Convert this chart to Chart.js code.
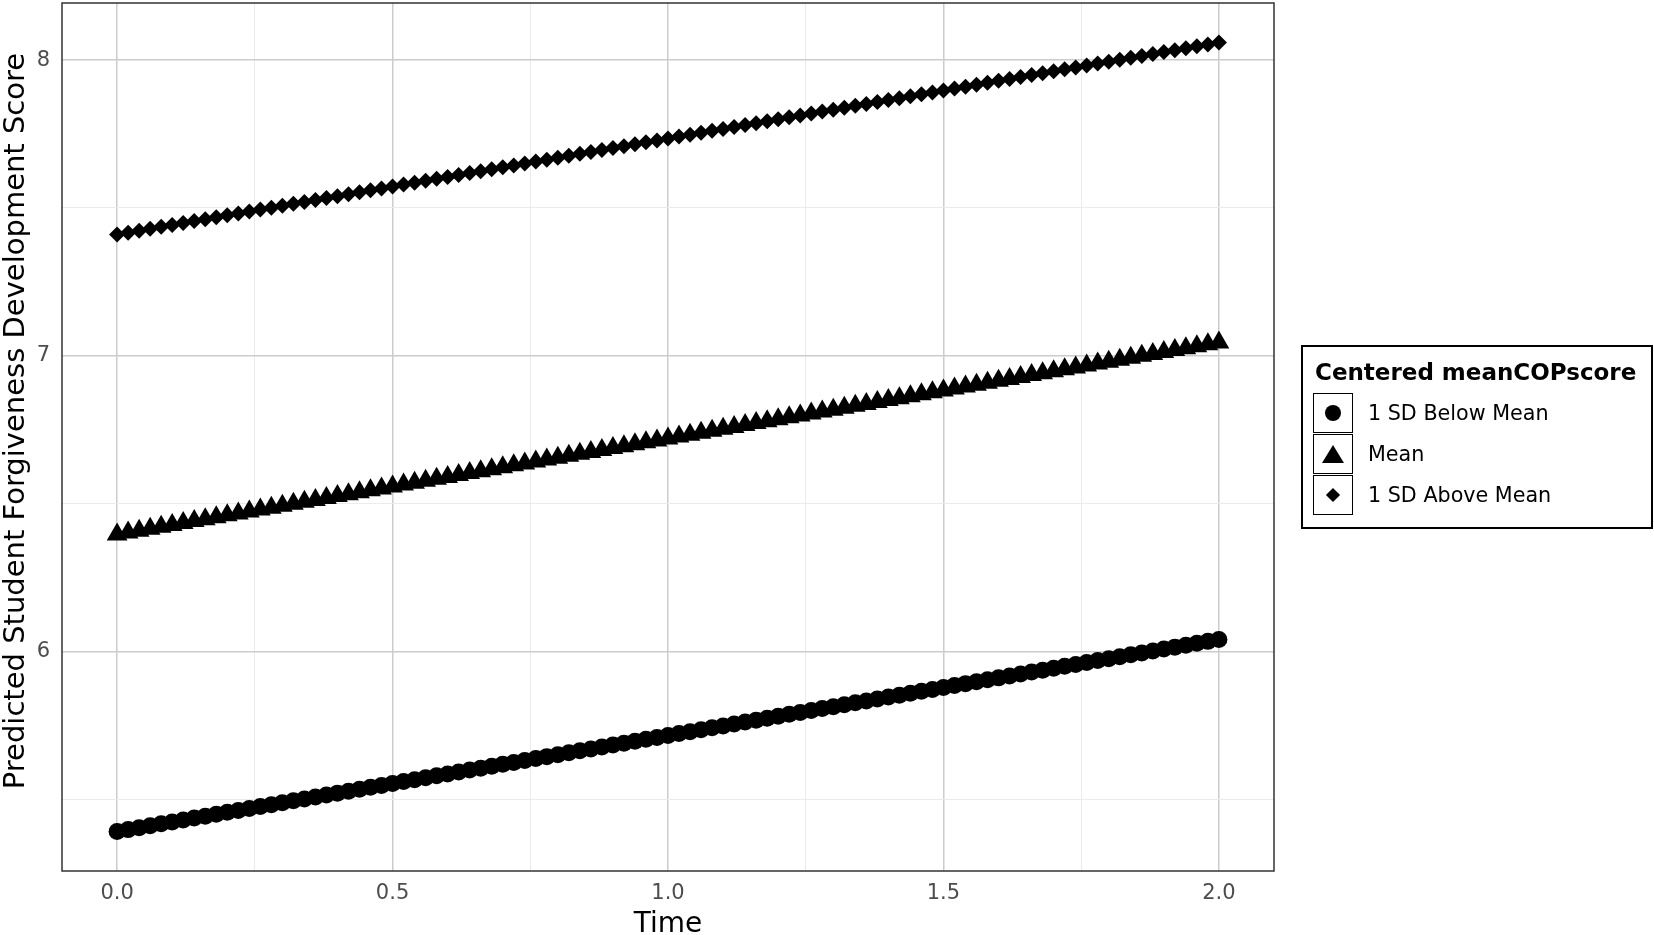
<!DOCTYPE html>
<html>
<head>
<meta charset="utf-8">
<script src="https://cdn.jsdelivr.net/npm/chart.js@4"></script>
<style>
  body { margin: 0; background: #fff; }
  #wrap { position: relative; width: 1654px; height: 935px; }
  #legend {
    position: absolute; left: 1301px; top: 345px; width: 348px; height: 180px;
    border: 2px solid #000; font-family: "DejaVu Sans", sans-serif; color: #000;
  }
  #legend .title { position: absolute; left: 12px; top: 12px; font-size: 23px; font-weight: bold; line-height: 26px; white-space: nowrap; }
  #legend .row { position: absolute; left: 10px; height: 41px; width: 330px; }
  #legend .key { position: absolute; left: 0; top: 0; width: 38px; height: 38px; border: 1.5px solid #000; }
  #legend .lab { position: absolute; left: 55px; top: 0; line-height: 41px; font-size: 20.7px; white-space: nowrap; }
  .dot { position: absolute; left: 11px; top: 11px; width: 16px; height: 16px; border-radius: 50%; background: #000; }
  .tri { position: absolute; left: 8px; top: 10px; width: 0; height: 0; border-left: 11px solid transparent; border-right: 11px solid transparent; border-bottom: 18px solid #000; }
  .dia { position: absolute; left: 14px; top: 14px; width: 10px; height: 10px; background: #000; transform: rotate(45deg); }
</style>
</head>
<body>
<div id="wrap">
  <canvas id="myChart" width="1654" height="935"></canvas>
  <div id="legend">
    <div class="title">Centered meanCOPscore</div>
    <div class="row" style="top:46px"><div class="key"><div class="dot"></div></div><div class="lab">1 SD Below Mean</div></div>
    <div class="row" style="top:87px"><div class="key"><div class="tri"></div></div><div class="lab">Mean</div></div>
    <div class="row" style="top:128px"><div class="key"><div class="dia"></div></div><div class="lab">1 SD Above Mean</div></div>
  </div>
</div>
<script>
// Valeurs
const time = [
  0.00, 0.02, 0.04, 0.06, 0.08, 0.10, 0.12, 0.14, 0.16, 0.18,
  0.20, 0.22, 0.24, 0.26, 0.28, 0.30, 0.32, 0.34, 0.36, 0.38,
  0.40, 0.42, 0.44, 0.46, 0.48, 0.50, 0.52, 0.54, 0.56, 0.58,
  0.60, 0.62, 0.64, 0.66, 0.68, 0.70, 0.72, 0.74, 0.76, 0.78,
  0.80, 0.82, 0.84, 0.86, 0.88, 0.90, 0.92, 0.94, 0.96, 0.98,
  1.00, 1.02, 1.04, 1.06, 1.08, 1.10, 1.12, 1.14, 1.16, 1.18,
  1.20, 1.22, 1.24, 1.26, 1.28, 1.30, 1.32, 1.34, 1.36, 1.38,
  1.40, 1.42, 1.44, 1.46, 1.48, 1.50, 1.52, 1.54, 1.56, 1.58,
  1.60, 1.62, 1.64, 1.66, 1.68, 1.70, 1.72, 1.74, 1.76, 1.78,
  1.80, 1.82, 1.84, 1.86, 1.88, 1.90, 1.92, 1.94, 1.96, 1.98,
  2.00
];

const belowMean = [
  5.3900, 5.3965, 5.4030, 5.4095, 5.4160, 5.4225, 5.4290, 5.4355, 5.4420, 5.4485,
  5.4550, 5.4615, 5.4680, 5.4745, 5.4810, 5.4875, 5.4940, 5.5005, 5.5070, 5.5135,
  5.5200, 5.5265, 5.5330, 5.5395, 5.5460, 5.5525, 5.5590, 5.5655, 5.5720, 5.5785,
  5.5850, 5.5915, 5.5980, 5.6045, 5.6110, 5.6175, 5.6240, 5.6305, 5.6370, 5.6435,
  5.6500, 5.6565, 5.6630, 5.6695, 5.6760, 5.6825, 5.6890, 5.6955, 5.7020, 5.7085,
  5.7150, 5.7215, 5.7280, 5.7345, 5.7410, 5.7475, 5.7540, 5.7605, 5.7670, 5.7735,
  5.7800, 5.7865, 5.7930, 5.7995, 5.8060, 5.8125, 5.8190, 5.8255, 5.8320, 5.8385,
  5.8450, 5.8515, 5.8580, 5.8645, 5.8710, 5.8775, 5.8840, 5.8905, 5.8970, 5.9035,
  5.9100, 5.9165, 5.9230, 5.9295, 5.9360, 5.9425, 5.9490, 5.9555, 5.9620, 5.9685,
  5.9750, 5.9815, 5.9880, 5.9945, 6.0010, 6.0075, 6.0140, 6.0205, 6.0270, 6.0335,
  6.0400
];

const meanScore = [
  6.3950, 6.4015, 6.4080, 6.4145, 6.4210, 6.4275, 6.4340, 6.4405, 6.4470, 6.4535,
  6.4600, 6.4665, 6.4730, 6.4795, 6.4860, 6.4925, 6.4990, 6.5055, 6.5120, 6.5185,
  6.5250, 6.5315, 6.5380, 6.5445, 6.5510, 6.5575, 6.5640, 6.5705, 6.5770, 6.5835,
  6.5900, 6.5965, 6.6030, 6.6095, 6.6160, 6.6225, 6.6290, 6.6355, 6.6420, 6.6485,
  6.6550, 6.6615, 6.6680, 6.6745, 6.6810, 6.6875, 6.6940, 6.7005, 6.7070, 6.7135,
  6.7200, 6.7265, 6.7330, 6.7395, 6.7460, 6.7525, 6.7590, 6.7655, 6.7720, 6.7785,
  6.7850, 6.7915, 6.7980, 6.8045, 6.8110, 6.8175, 6.8240, 6.8305, 6.8370, 6.8435,
  6.8500, 6.8565, 6.8630, 6.8695, 6.8760, 6.8825, 6.8890, 6.8955, 6.9020, 6.9085,
  6.9150, 6.9215, 6.9280, 6.9345, 6.9410, 6.9475, 6.9540, 6.9605, 6.9670, 6.9735,
  6.9800, 6.9865, 6.9930, 6.9995, 7.0060, 7.0125, 7.0190, 7.0255, 7.0320, 7.0385,
  7.0450
];

const aboveMean = [
  7.4100, 7.4165, 7.4230, 7.4295, 7.4360, 7.4425, 7.4490, 7.4555, 7.4620, 7.4685,
  7.4750, 7.4815, 7.4880, 7.4945, 7.5010, 7.5075, 7.5140, 7.5205, 7.5270, 7.5335,
  7.5400, 7.5465, 7.5530, 7.5595, 7.5660, 7.5725, 7.5790, 7.5855, 7.5920, 7.5985,
  7.6050, 7.6115, 7.6180, 7.6245, 7.6310, 7.6375, 7.6440, 7.6505, 7.6570, 7.6635,
  7.6700, 7.6765, 7.6830, 7.6895, 7.6960, 7.7025, 7.7090, 7.7155, 7.7220, 7.7285,
  7.7350, 7.7415, 7.7480, 7.7545, 7.7610, 7.7675, 7.7740, 7.7805, 7.7870, 7.7935,
  7.8000, 7.8065, 7.8130, 7.8195, 7.8260, 7.8325, 7.8390, 7.8455, 7.8520, 7.8585,
  7.8650, 7.8715, 7.8780, 7.8845, 7.8910, 7.8975, 7.9040, 7.9105, 7.9170, 7.9235,
  7.9300, 7.9365, 7.9430, 7.9495, 7.9560, 7.9625, 7.9690, 7.9755, 7.9820, 7.9885,
  7.9950, 8.0015, 8.0080, 8.0145, 8.0210, 8.0275, 8.0340, 8.0405, 8.0470, 8.0535,
  8.0600
];

const xTicks = [0, 0.5, 1, 1.5, 2];
const xMinorTicks = [0.25, 0.75, 1.25, 1.75];
const yTicks = [6, 7, 8];
const yMinorTicks = [5.5, 6.5, 7.5];
const yTitle = "Predicted Student Forgiveness Development Score";

const FONT = "DejaVu Sans";

function toPoints(values) {
  return values.map((v, i) => ({ x: time[i], y: v }));
}

// Cadre du panneau + titre de l'axe Y (style ggplot)
const panelBorder = {
  id: "panelBorder",
  afterDraw(chart) {
    const a = chart.chartArea;
    const ctx = chart.ctx;
    ctx.save();
    ctx.strokeStyle = "#333333";
    ctx.lineWidth = 1.5;
    ctx.strokeRect(a.left, a.top, a.right - a.left, a.bottom - a.top);

    ctx.translate(16, 421);
    ctx.rotate(-Math.PI / 2);
    ctx.fillStyle = "#000";
    ctx.font = "29px 'DejaVu Sans'";
    ctx.textAlign = "center";
    ctx.textBaseline = "middle";
    ctx.fillText(yTitle, 0, 0);
    ctx.restore();
  }
};

function gridColor(major) {
  return (c) => (c.tick && major.includes(c.tick.value) ? "#cccccc" : "#ebebeb");
}
function gridWidth(major) {
  return (c) => (c.tick && major.includes(c.tick.value) ? 1.5 : 1);
}

const ctx = document.getElementById("myChart").getContext("2d");
const myChart = new Chart(ctx, {
  type: "scatter",
  data: {
    datasets: [
      {
        label: "1 SD Below Mean",
        data: toPoints(belowMean),
        pointStyle: "circle",
        pointRadius: 8.5,
        backgroundColor: "#000",
        borderWidth: 0,
      },
      {
        label: "Mean",
        data: toPoints(meanScore),
        pointStyle: "triangle",
        pointRadius: 12,
        backgroundColor: "#000",
        borderWidth: 0,
      },
      {
        label: "1 SD Above Mean",
        data: toPoints(aboveMean),
        pointStyle: "rectRot",
        pointRadius: 8,
        backgroundColor: "#000",
        borderWidth: 0,
      },
    ],
  },
  options: {
    responsive: false,
    animation: false,
    layout: { autoPadding: false, padding: { top: 3, right: 380, bottom: 0, left: 0 } },
    plugins: {
      legend: { display: false },
      tooltip: { enabled: false },
    },
    scales: {
      x: {
        type: "linear",
        min: -0.1,
        max: 2.1,
        afterBuildTicks: (s) => {
          s.ticks = xTicks.concat(xMinorTicks).map((v) => ({ value: v }));
        },
        afterFit: (s) => {
          s.height = 64;
          s.paddingLeft = 0;
          s.paddingRight = 0;
        },
        grid: { drawTicks: false, color: gridColor(xTicks), lineWidth: gridWidth(xTicks) },
        border: { display: false },
        ticks: {
          autoSkip: false,
          maxRotation: 0,
          padding: 10,
          color: "#4d4d4d",
          font: { family: FONT, size: 21 },
          callback: (v) => (xTicks.includes(v) ? v.toFixed(1) : ""),
        },
        title: {
          display: true,
          text: "Time",
          color: "#000",
          font: { family: FONT, size: 28, lineHeight: 0.72 },
          padding: { top: 0, bottom: 0 },
        },
      },
      y: {
        min: 5.2565,
        max: 8.1935,
        afterBuildTicks: (s) => {
          s.ticks = yTicks.concat(yMinorTicks).map((v) => ({ value: v }));
        },
        afterFit: (s) => {
          s.width = 62;
          s.paddingTop = 0;
          s.paddingBottom = 0;
        },
        grid: { drawTicks: false, color: gridColor(yTicks), lineWidth: gridWidth(yTicks) },
        border: { display: false },
        ticks: {
          autoSkip: false,
          padding: 12,
          color: "#4d4d4d",
          font: { family: FONT, size: 21 },
          callback: (v) => (yTicks.includes(v) ? String(v) : ""),
        },
      },
    },
  },
  plugins: [panelBorder],
});
</script>
</body>
</html>
